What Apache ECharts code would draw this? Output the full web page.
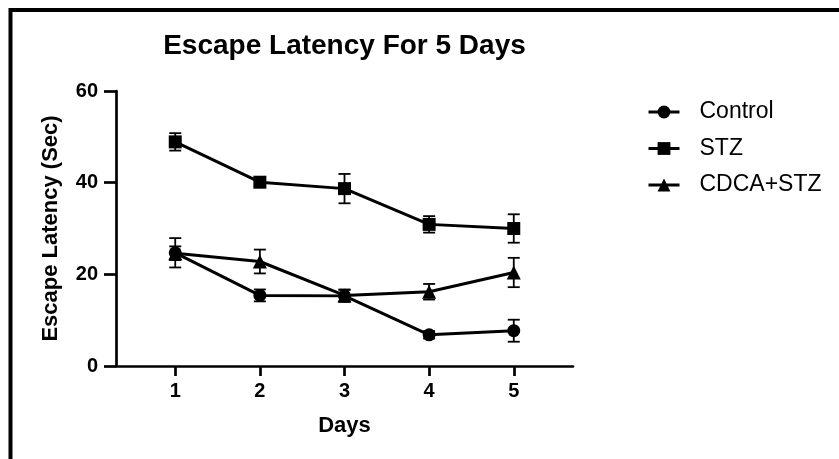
<!DOCTYPE html>
<html>
<head>
<meta charset="utf-8">
<script src="https://cdn.jsdelivr.net/npm/echarts@6/dist/echarts.min.js"></script>
<style>
  html, body { margin: 0; padding: 0; background: #fff; }
  #chart { width: 839px; height: 459px; }
</style>
</head>
<body>
<div id="chart"></div>
<script>
// data
var days = [1, 2, 3, 4, 5];
var control = [24.7, 15.4, 15.3, 6.8, 7.7];
var controlErr = [3.2, 1.3, 1.3, 0.8, 2.4];
var stz = [48.9, 40.1, 38.7, 30.9, 30.0];
var stzErr = [1.9, 0.8, 3.2, 1.8, 3.1];
var cdca = [24.6, 22.8, 15.4, 16.2, 20.4];
var cdcaErr = [1.5, 2.6, 1.3, 1.7, 3.2];
var yTicks = [0, 20, 40, 60];

var FONT = "Liberation Sans, Arial, sans-serif";

function pts(vals) {
  return days.map(function (d, i) { return [d, vals[i]]; });
}
function errData(vals, errs) {
  return days.map(function (d, i) { return [d, vals[i] - errs[i], vals[i] + errs[i]]; });
}

// error bars with caps
function errRender(params, api) {
  var lo = api.coord([api.value(0), api.value(1)]);
  var hi = api.coord([api.value(0), api.value(2)]);
  var w = 6;
  var st = { stroke: "#000", lineWidth: 1.8 };
  return {
    type: "group",
    children: [
      { type: "line", shape: { x1: lo[0], y1: lo[1], x2: hi[0], y2: hi[1] }, style: st },
      { type: "line", shape: { x1: lo[0] - w, y1: lo[1], x2: lo[0] + w, y2: lo[1] }, style: st },
      { type: "line", shape: { x1: hi[0] - w, y1: hi[1], x2: hi[0] + w, y2: hi[1] }, style: st },
    ],
  };
}

var myChart = echarts.init(document.getElementById("chart"));

var option = {
  animation: false,
  backgroundColor: "#fff",
  textStyle: { fontFamily: FONT },
  graphic: [
    {
      // picture frame (only top and left edges are inside the window)
      type: "rect",
      shape: { x: 10.5, y: 10, width: 1000, height: 800 },
      style: { fill: null, stroke: "#000", lineWidth: 4 },
      z: 100,
    },
    {
      // title, centred over the plot area
      type: "text",
      x: 344.5,
      y: 46,
      style: {
        text: "Escape Latency For 5 Days",
        align: "center",
        verticalAlign: "middle",
        fontFamily: FONT,
        fontWeight: "bold",
        fontSize: 28,
        fill: "#000",
      },
    },
  ],
  legend: {
    left: 642,
    top: 95.5,
    orient: "vertical",
    itemWidth: 31,
    itemHeight: 16,
    itemGap: 13.5,
    lineStyle: { width: 3, color: "#000" },
    data: ["Control", "STZ", "CDCA+STZ"],
    textStyle: { fontFamily: FONT, fontSize: 23, color: "#000", padding: [0, 0, 0, 15] },
  },
  grid: { left: 116, right: 266, top: 91, bottom: 93 },
  xAxis: {
    type: "value",
    min: 0.3,
    max: 5.7,
    name: "Days",
    nameLocation: "middle",
    nameGap: 49,
    nameTextStyle: { fontFamily: FONT, fontWeight: "bold", fontSize: 22, color: "#000" },
    splitLine: { show: false },
    axisLine: { lineStyle: { color: "#000", width: 2.7 } },
    axisTick: { customValues: days, length: 10, lineStyle: { color: "#000", width: 2.7 } },
    axisLabel: {
      customValues: days,
      margin: 15,
      fontFamily: FONT, fontWeight: "bold", fontSize: 20, color: "#000",
    },
  },
  yAxis: {
    type: "value",
    min: 0,
    max: 60,
    interval: 20,
    name: "Escape Latency (Sec)",
    nameLocation: "middle",
    nameGap: 54,
    nameTextStyle: { fontFamily: FONT, fontWeight: "bold", fontSize: 22, color: "#000" },
    splitLine: { show: false },
    axisLine: { show: true, lineStyle: { color: "#000", width: 2.7 } },
    axisTick: { show: true, length: 12, lineStyle: { color: "#000", width: 2.7 } },
    axisLabel: {
      customValues: yTicks,
      margin: 18,
      fontFamily: FONT, fontWeight: "bold", fontSize: 20, color: "#000",
    },
  },
  series: [
    { type: "custom", renderItem: errRender, data: errData(control, controlErr), z: 1, silent: true },
    { type: "custom", renderItem: errRender, data: errData(stz, stzErr), z: 1, silent: true },
    { type: "custom", renderItem: errRender, data: errData(cdca, cdcaErr), z: 1, silent: true },
    {
      name: "Control", type: "line", data: pts(control), z: 3,
      symbol: "circle", symbolSize: 13,
      lineStyle: { color: "#000", width: 3 }, itemStyle: { color: "#000" },
    },
    {
      name: "STZ", type: "line", data: pts(stz), z: 3,
      symbol: "rect", symbolSize: 13,
      lineStyle: { color: "#000", width: 3 }, itemStyle: { color: "#000" },
    },
    {
      name: "CDCA+STZ", type: "line", data: pts(cdca), z: 3,
      symbol: "triangle", symbolSize: 14,
      lineStyle: { color: "#000", width: 3 }, itemStyle: { color: "#000" },
    },
  ],
};

myChart.setOption(option);
window.addEventListener("resize", function () {
  myChart.resize();
});
</script>
</body>
</html>
